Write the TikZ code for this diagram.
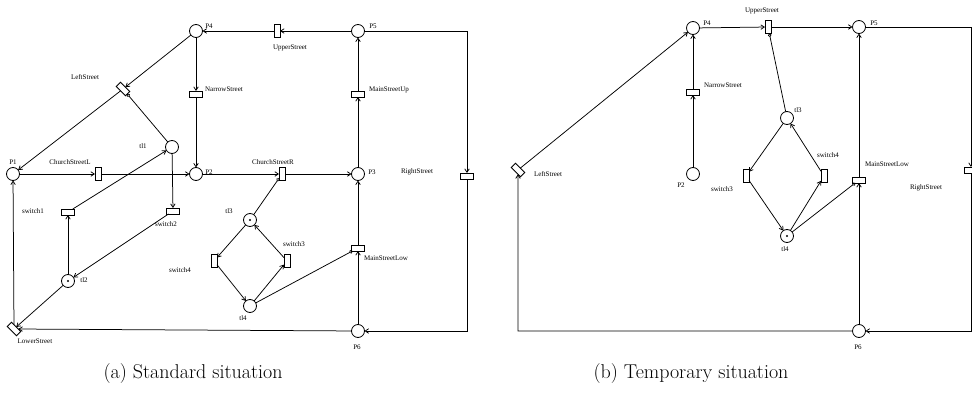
\documentclass[tikz,border=0pt]{standalone}
\usepackage{fontspec}
\newfontfamily\lblfont{Liberation Serif}
\usetikzlibrary{arrows.meta}
\begin{document}
\begin{tikzpicture}[x=1pt,y=-1pt,
  every node/.style={inner sep=0pt, outer sep=0pt},
  place/.style={circle, draw, fill=white, minimum size=13pt, line width=0.8pt},
  htrans/.style={rectangle, draw, fill=white, minimum width=13pt, minimum height=6pt, line width=0.8pt},
  vtrans/.style={rectangle, draw, fill=white, minimum width=6pt, minimum height=13pt, line width=0.8pt},
  dtrans/.style={htrans, rotate=-45},
  lbl/.style={font=\lblfont\fontsize{7}{8}\selectfont},
  captext/.style={font=\fontsize{20}{24}\selectfont},
  arc/.style={line width=0.75pt, -{Straight Barb[length=3.5pt,width=4.5pt]}},
  inh/.style={line width=0.75pt, -{Circle[open,length=3.5pt,width=3.5pt]}},
  tokendot/.style={fill=black},
]
\useasboundingbox (0,0) rectangle (972,396);

% ---------- (a) standard situation ----------
\node[place] (P4) at (196,31) {};
\node[place] (P5) at (358,31) {};
\node[vtrans] (US) at (277,31) {};
\node[dtrans] (LS) at (123,89) {};
\node[htrans] (NS) at (196,94) {};
\node[place] (tl1) at (172,147) {};
\node[place] (P1) at (13,174) {};
\node[vtrans] (CSL) at (98,174) {};
\node[place] (P2) at (196,174) {};
\node[vtrans] (CSR) at (282,174) {};
\node[place] (P3) at (358,174) {};
\node[htrans] (MSU) at (358,94) {};
\node[htrans] (RS) at (467,176) {};
\coordinate (cA) at (467,31);
\node[htrans] (sw1) at (68,212) {};
\node[htrans] (sw2) at (173,211) {};
\node[place] (tl2) at (68,281) {};
\node[dtrans] (LoS) at (14,329) {};
\node[place] (tl3) at (250,220) {};
\node[vtrans] (sw4) at (214,261) {};
\node[vtrans] (sw3) at (287,261) {};
\node[place] (tl4) at (250,306) {};
\node[htrans] (MSL) at (358,248) {};
\node[place] (P6) at (358,331) {};
\fill[tokendot] (tl2.center) circle (1.2pt);
\fill[tokendot] (tl3.center) circle (1.2pt);

\draw[arc] (P5) -- (US);
\draw[arc] (US) -- (P4);
\draw[arc] (P4) -- (LS);
\draw[arc] (LS) -- (P1);
\draw[arc] (P4) -- (NS);
\draw[arc] (NS) -- (P2);
\draw[arc] (P1) -- (CSL);
\draw[arc] (CSL) -- (P2);
\draw[arc] (P2) -- (CSR);
\draw[arc] (CSR) -- (P3);
\draw[arc] (P3) -- (MSU);
\draw[arc] (MSU) -- (P5);
\draw[arc] (P5) -- (cA) -- (RS);
\draw[arc] (RS) |- (P6);
\draw[arc] (P6) -- (LoS);
\draw[arc] (P6) -- (MSL);
\draw[arc] (MSL) -- (P3);
\draw[arc] (LoS) -- (P1);
\draw[inh] (tl1) -- (LS);
\draw[arc] (tl1) -- (sw2);
\draw[arc] (sw2) -- (tl2);
\draw[arc] (tl2) -- (sw1);
\draw[arc] (sw1) -- (tl1);
\draw[arc] (tl2) -- (LoS);
\draw[inh] (tl3) -- (CSR);
\draw[arc] (tl3) -- (sw4);
\draw[arc] (sw4) -- (tl4);
\draw[arc] (tl4) -- (sw3);
\draw[arc] (sw3) -- (tl3);
\draw[inh] (tl4) -- (MSL);

\node[lbl] (lP4) at (209,26) {P4};
\node[lbl] (lP5) at (373,26) {P5};
\node[lbl] (lP1) at (13,162) {P1};
\node[lbl] (lP2) at (209,172) {P2};
\node[lbl] (lP3) at (372,172) {P3};
\node[lbl] (lP6) at (357,347) {P6};
\node[lbl] (ltl1) at (143,146) {tl1};
\node[lbl] (ltl2) at (84,280) {tl2};
\node[lbl] (ltl3) at (229,211) {tl3};
\node[lbl] (ltl4) at (243,318) {tl4};
\node[lbl] (lLS) at (85,77) {LeftStreet};
\node[lbl] (lNS) at (224,89) {NarrowStreet};
\node[lbl] (lUS) at (290,48) {UpperStreet};
\node[lbl] (lMSU) at (389,90) {MainStreetUp};
\node[lbl] (lCSL) at (70,162) {ChurchStreetL};
\node[lbl] (lCSR) at (273,162) {ChurchStreetR};
\node[lbl] (lRS) at (417,172) {RightStreet};
\node[lbl] (lsw1) at (33,211) {switch1};
\node[lbl] (lsw2) at (166,224) {switch2};
\node[lbl] (lsw4) at (180,270) {switch4};
\node[lbl] (lsw3) at (294,244) {switch3};
\node[lbl] (lMSL) at (386,258) {MainStreetLow};
\node[lbl] (lLoS) at (35,341) {LowerStreet};

\node[captext] (capA) at (193,374) {(a) Standard situation};

% ---------- (b) temporary situation ----------
\node[place] (P4r) at (693,28) {};
\node[place] (P5r) at (859,27) {};
\node[vtrans] (USr) at (768,27) {};
\node[htrans] (NSr) at (693,92) {};
\node[place] (P2r) at (693,174) {};
\node[dtrans] (LSr) at (518,170) {};
\node[place] (tl3r) at (787,118) {};
\node[vtrans] (sw3r) at (746,176) {};
\node[vtrans] (sw4r) at (824,176) {};
\node[place] (tl4r) at (787,236) {};
\node[htrans] (MSLr) at (859,180) {};
\node[place] (P6r) at (859,331) {};
\node[htrans] (RSr) at (971,170) {};
\coordinate (cAr) at (971,27);
\coordinate (cBr) at (518,331);
\coordinate (cCr) at (971,331);
\fill[tokendot] (tl4r.center) circle (1.2pt);

\draw[arc] (P4r) -- (USr);
\draw[arc] (USr) -- (P5r);
\draw[arc] (P2r) -- (NSr);
\draw[arc] (NSr) -- (P4r);
\draw[arc] (LSr) -- (P4r);
\draw[arc] (P6r) -- (cBr) -- (LSr);
\draw[arc] (P5r) -- (cAr) -- (RSr);
\draw[arc] (RSr) -- (cCr) -- (P6r);
\draw[arc] (P6r) -- (MSLr);
\draw[arc] (MSLr) -- (P5r);
\draw[inh] (tl3r) -- (USr);
\draw[arc] (tl3r) -- (sw3r);
\draw[arc] (sw3r) -- (tl4r);
\draw[arc] (tl4r) -- (sw4r);
\draw[arc] (sw4r) -- (tl3r);
\draw[inh] (tl4r) -- (MSLr);

\node[lbl] (lP4r) at (707,23) {P4};
\node[lbl] (lP5r) at (874,23) {P5};
\node[lbl] (lUSr) at (762,11) {UpperStreet};
\node[lbl] (lNSr) at (723,85) {NarrowStreet};
\node[lbl] (lLSr) at (548,174) {LeftStreet};
\node[lbl] (lP2r) at (681,185) {P2};
\node[lbl] (lsw3r) at (722,189) {switch3};
\node[lbl] (ltl3r) at (798,110) {tl3};
\node[lbl] (lsw4r) at (828,155) {switch4};
\node[lbl] (lMSLr) at (887,164) {MainStreetLow};
\node[lbl] (lRSr) at (926,188) {RightStreet};
\node[lbl] (ltl4r) at (785,249) {tl4};
\node[lbl] (lP6r) at (858,347) {P6};

\node[captext] (capB) at (691,374) {(b) Temporary situation};
\end{tikzpicture}
\end{document}
